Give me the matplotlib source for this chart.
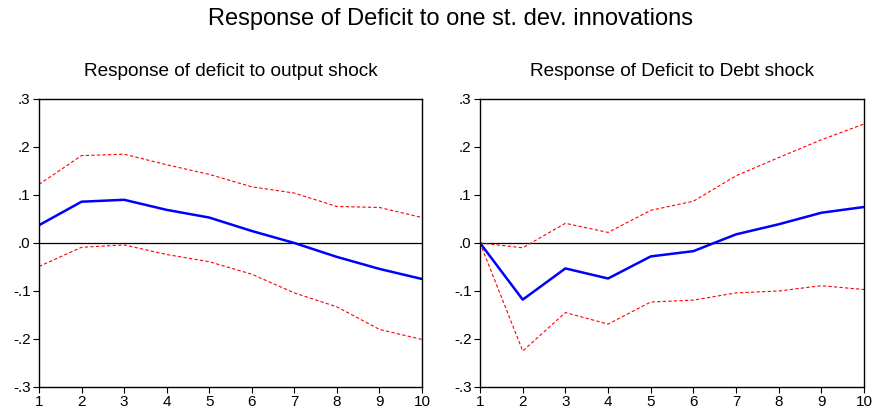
import numpy as np
import matplotlib
matplotlib.use("Agg")
import matplotlib.pyplot as plt
from matplotlib.ticker import FuncFormatter

plt.rcParams["font.family"] = ["Liberation Sans", "DejaVu Sans"]

periods = list(range(1, 11))

# Response of deficit to output shock
out_resp = [0.037, 0.086, 0.090, 0.069, 0.053, 0.025, 0.000, -0.029, -0.054, -0.075]
out_upper = [0.122, 0.182, 0.185, 0.163, 0.143, 0.117, 0.104, 0.076, 0.074, 0.053]
out_lower = [-0.049, -0.009, -0.004, -0.024, -0.039, -0.065, -0.104, -0.133, -0.180, -0.201]

# Response of deficit to debt shock
debt_resp = [0.0, -0.118, -0.053, -0.074, -0.028, -0.017, 0.018, 0.039, 0.063, 0.075]
debt_upper = [0.0, -0.010, 0.041, 0.022, 0.068, 0.087, 0.140, 0.178, 0.215, 0.248]
debt_lower = [0.0, -0.225, -0.145, -0.169, -0.123, -0.119, -0.104, -0.100, -0.089, -0.097]

titles = ["Response of deficit to output shock", "Response of Deficit to Debt shock"]
yticks = [-0.3, -0.2, -0.1, 0.0, 0.1, 0.2, 0.3]


def fmt(v, pos):
    s = f"{v:.1f}"
    return s.replace("0.", ".")


fig = plt.figure(figsize=(8.76, 4.18), dpi=100)
fig.text(0.514, 0.955, "Response of Deficit to one st. dev. innovations",
         ha="center", va="center", fontsize=17)

rects = [[0.0445, 0.0742, 0.4372, 0.689], [0.548, 0.0742, 0.4384, 0.689]]
series = [(out_resp, out_upper, out_lower), (debt_resp, debt_upper, debt_lower)]

for rect, title, (resp, up, lo) in zip(rects, titles, series):
    ax = fig.add_axes(rect)
    ax.axhline(0, color="black", lw=0.9)
    ax.plot(periods, up, color="red", ls=(0, (3, 2)), lw=0.8)
    ax.plot(periods, lo, color="red", ls=(0, (3, 2)), lw=0.8)
    ax.plot(periods, resp, color="blue", lw=1.8)
    ax.set_xlim(1, 10)
    ax.set_ylim(-0.3, 0.3)
    ax.set_xticks(periods)
    ax.set_yticks(yticks)
    ax.yaxis.set_major_formatter(FuncFormatter(fmt))
    ax.tick_params(direction="out", length=4, width=0.8, labelsize=11, pad=2)
    for sp in ax.spines.values():
        sp.set_linewidth(1.0)
    ax.set_title(title, fontsize=13.7, pad=16.5)

fig.savefig("out.png", dpi=100)
